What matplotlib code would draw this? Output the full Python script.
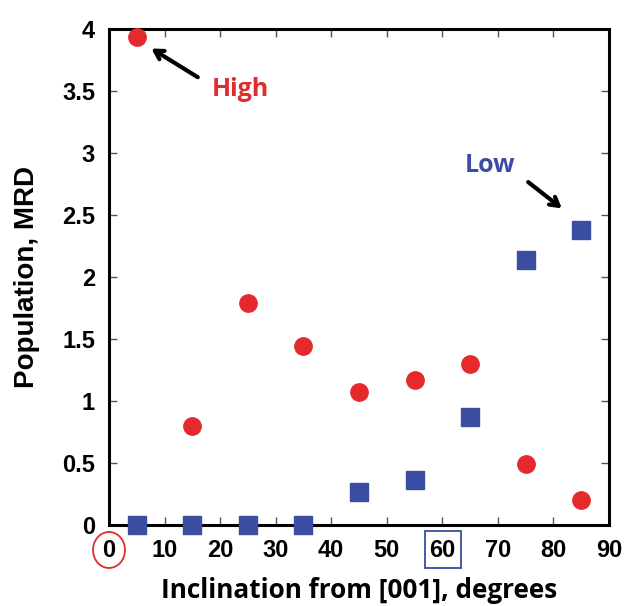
import matplotlib.pyplot as plt
from matplotlib.patches import Ellipse, Rectangle

# Data
angle = [5, 15, 25, 35, 45, 55, 65, 75, 85]
high = [3.94, 0.80, 1.79, 1.44, 1.07, 1.17, 1.30, 0.49, 0.20]
low = [0.0, 0.0, 0.0, 0.0, 0.27, 0.36, 0.87, 2.14, 2.38]
xticks = list(range(0, 100, 10))
yticks = [0, 0.5, 1, 1.5, 2, 2.5, 3, 3.5, 4]
ytick_labels = ["0", "0.5", "1", "1.5", "2", "2.5", "3", "3.5", "4"]

red = "#E52A2E"
blue = "#3A4DA0"

plt.rcParams["font.family"] = "Liberation Sans"
plt.rcParams["font.weight"] = "bold"

fig = plt.figure(figsize=(6.24, 6.06), dpi=100)
ax = fig.add_axes([0.1747, 0.1337, 0.8013, 0.8183])

ax.plot(angle, high, "o", color=red, markersize=12.5, clip_on=False, zorder=3)
ax.plot(angle, low, "s", color=blue, markersize=13, clip_on=False, zorder=3)

ax.set_xlim(0, 90)
ax.set_ylim(0, 4)
ax.set_xticks(xticks)
ax.set_yticks(yticks)
ax.set_yticklabels(ytick_labels)

for s in ax.spines.values():
    s.set_linewidth(2.2)
ax.tick_params(direction="in", length=6, width=1, color="#555555",
               top=True, right=True, pad=10, labelsize=17)

ax.set_xlabel("Inclination from [001], degrees", family="Open Sans",
              fontweight="bold", fontsize=18.8, labelpad=11)
ax.set_ylabel("Population, MRD", fontweight="bold", fontsize=20, labelpad=16)

# annotations
arrow = dict(arrowstyle="->,head_length=0.6,head_width=0.35",
             color="black", lw=3)
ax.annotate("", xy=(7.2, 3.855), xytext=(16.4, 3.6), arrowprops=arrow)
ax.text(23.6, 3.51, "High", color=red, family="Open Sans", fontweight="bold",
        fontsize=18, ha="center", va="center")
ax.annotate("", xy=(81.9, 2.54), xytext=(75.05, 2.78), arrowprops=arrow)
ax.text(68.6, 2.90, "Low", color=blue, family="Open Sans", fontweight="bold",
        fontsize=18, ha="center", va="center")

# highlight marks around the 0 and 60 tick labels
fig.add_artist(Ellipse((109 / 624, 1 - 550 / 606), 32 / 624, 36 / 606,
                       fill=False, edgecolor=red, lw=1.3,
                       transform=fig.transFigure))
fig.add_artist(Rectangle((425 / 624, 1 - 568 / 606), 36 / 624, 37 / 606,
                         fill=False, edgecolor=blue, lw=1.3,
                         transform=fig.transFigure))

fig.savefig("out.png", dpi=100)
